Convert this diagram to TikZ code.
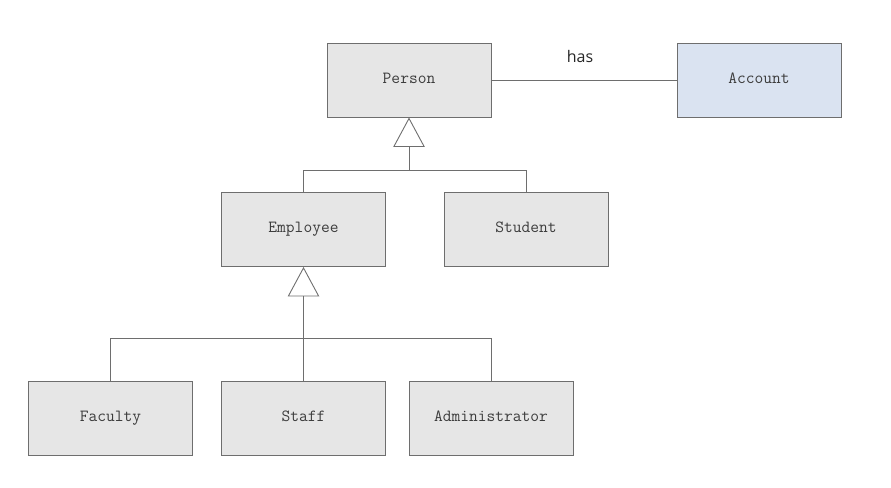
\documentclass[tikz,border=0pt]{standalone}
\usepackage{fontspec}
\newfontfamily\hasfont{Open Sans}
\usetikzlibrary{arrows.meta}
\definecolor{boxfill}{HTML}{E6E6E6}
\definecolor{acctfill}{HTML}{DAE3F1}
\definecolor{edge}{HTML}{6E6E6E}
\definecolor{txt}{HTML}{3C3C3C}
\begin{document}
\begin{tikzpicture}[x=1pt,y=-1pt,
  cls/.style={draw=edge, fill=boxfill, minimum width=164pt, minimum height=74pt,
    font=\ttfamily\fontsize{17}{19}\selectfont, text=txt, line width=0.9pt, inner sep=0pt,
    text height=0.61em, text depth=0pt},
  lnk/.style={draw=edge, line width=0.9pt},
  gen/.style={lnk, -{Triangle[open, width=31.5pt, length=29.5pt, line width=0.9pt]}}]
\useasboundingbox (0,0) rectangle (891,487);
\node[cls] (person) at (409,80) {Person};
\node[cls, fill=acctfill] (account) at (759,80) {Account};
\node[cls] (employee) at (303.5,229.5) {Employee};
\node[cls] (student) at (526,229.5) {Student};
\node[cls] (faculty) at (110.5,418) {Faculty};
\node[cls] (staff) at (303.5,418) {Staff};
\node[cls] (admin) at (491,418) {Administrator};
\node[font=\hasfont\fontsize{16}{18}\selectfont, text=black!85] (haslbl) at (580,57) {has};
\draw[lnk] (person) -- (account);
\coordinate (hubP) at (409,170);
\coordinate (hubE) at (303.5,338.5);
\draw[gen] (hubP) -- (person.south);
\draw[lnk] (hubP) -| (employee.north);
\draw[lnk] (hubP) -| (student.north);
\draw[gen] (hubE) -- (employee.south);
\draw[lnk] (hubE) -| (faculty.north);
\draw[lnk] (hubE) -| (admin.north);
\draw[lnk] (hubE) -- (staff.north);
\end{tikzpicture}
\end{document}
